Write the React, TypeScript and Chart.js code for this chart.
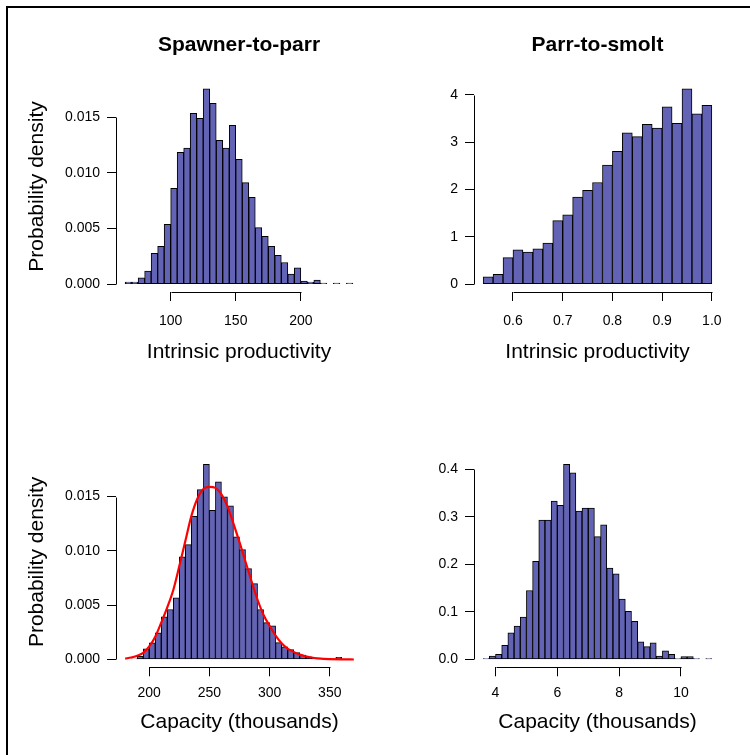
import React, { useEffect, useRef } from "react";
import { Chart, registerables } from "chart.js";

Chart.register(...registerables);

const FONT = "'Liberation Sans', Arial, sans-serif";
const W = 750;
const H = 755;

// ---------- Spawner-to-parr : intrinsic productivity ----------
const spProdBreaks = [
  65, 70, 75, 80, 85, 90, 95, 100, 105, 110, 115, 120, 125, 130, 135, 140, 145, 150,
  155, 160, 165, 170, 175, 180, 185, 190, 195, 200, 205, 210, 215, 220, 225, 230, 235, 240,
];
const spProdDensity = [
  0.00018, 0.00018, 0.00057, 0.00117, 0.00278, 0.00341, 0.00539, 0.00862, 0.01186, 0.01225,
  0.01536, 0.01491, 0.01757, 0.01626, 0.01293, 0.01225, 0.01428, 0.01123, 0.00913, 0.00781,
  0.00509, 0.00431, 0.00341, 0.0026, 0.00195, 0.0009, 0.00147, 0.00027, 0.00018, 0.00036,
  0.00009, 0, 0.00009, 0, 0.00009,
];
const spProdXTicks = [100, 150, 200];
const spProdYTicks = [0, 0.005, 0.01, 0.015];

// ---------- Parr-to-smolt : intrinsic productivity ----------
const psProdBreaks = [
  0.54, 0.56, 0.58, 0.6, 0.62, 0.64, 0.66, 0.68, 0.7, 0.72, 0.74, 0.76, 0.78, 0.8, 0.82,
  0.84, 0.86, 0.88, 0.9, 0.92, 0.94, 0.96, 0.98, 1.0,
];
const psProdDensity = [
  0.155, 0.21, 0.56, 0.725, 0.68, 0.75, 0.87, 1.345, 1.465, 1.84, 1.985, 2.15, 2.52, 2.81,
  3.2, 3.12, 3.38, 3.3, 3.75, 3.4, 4.13, 3.6, 3.78,
];
const psProdXTicks = [0.6, 0.7, 0.8, 0.9, 1.0];
const psProdYTicks = [0, 1, 2, 3, 4];

// ---------- Spawner-to-parr : capacity ----------
const spCapBreaks = [
  180, 185, 190, 195, 200, 205, 210, 215, 220, 225, 230, 235, 240, 245, 250, 255, 260, 265,
  270, 275, 280, 285, 290, 295, 300, 305, 310, 315, 320, 325, 330, 335, 340, 345, 350, 355,
  360, 365, 370,
];
const spCapDensity = [
  0, 0.00005, 0.0003, 0.00098, 0.00153, 0.00245, 0.00393, 0.0046, 0.00567, 0.00945, 0.01058,
  0.01319, 0.01564, 0.01797, 0.01374, 0.01635, 0.01497, 0.01414, 0.01129, 0.01012, 0.00837,
  0.00699, 0.0046, 0.0034, 0.0031, 0.00156, 0.00117, 0.00092, 0.00064, 0.0004, 0.00025,
  0.0001, 0, 0, 0, 0.0002, 0, 0,
];
const spCapCurveX = [
  180, 185, 190, 195, 200, 205, 210, 215, 220, 225, 230, 235, 240, 245, 250, 255, 260, 265,
  270, 275, 280, 285, 290, 295, 300, 305, 310, 315, 320, 325, 330, 335, 340, 345, 350, 360, 370,
];
const spCapCurveY = [
  0.00008, 0.00018, 0.00035, 0.0006, 0.0012, 0.0021, 0.0034, 0.0048, 0.0064, 0.0086, 0.0109,
  0.0132, 0.0148, 0.0157, 0.0159, 0.0158, 0.0152, 0.0141, 0.0125, 0.0108, 0.009, 0.0072,
  0.0055, 0.0041, 0.0031, 0.0022, 0.0015, 0.001, 0.0007, 0.00045, 0.0003, 0.00018, 0.0001,
  0.00005, 0.00003, 0.00001, 0,
];
const spCapXTicks = [200, 250, 300, 350];
const spCapYTicks = [0, 0.005, 0.01, 0.015];

// ---------- Parr-to-smolt : capacity ----------
const psCapBreaks = [
  3.6, 3.8, 4.0, 4.2, 4.4, 4.6, 4.8, 5.0, 5.2, 5.4, 5.6, 5.8, 6.0, 6.2, 6.4, 6.6, 6.8, 7.0,
  7.2, 7.4, 7.6, 7.8, 8.0, 8.2, 8.4, 8.6, 8.8, 9.0, 9.2, 9.4, 9.6, 9.8, 10.0, 10.2, 10.4, 10.6,
  10.8, 11.0,
];
const psCapDensity = [
  0.002, 0.007, 0.011, 0.03, 0.056, 0.07, 0.089, 0.145, 0.206, 0.293, 0.293, 0.333, 0.324,
  0.41, 0.392, 0.312, 0.318, 0.318, 0.258, 0.283, 0.192, 0.18, 0.127, 0.101, 0.08, 0.037,
  0.027, 0.035, 0.007, 0.018, 0.011, 0.002, 0.006, 0.006, 0.002, 0, 0.002,
];
const psCapXTicks = [4, 6, 8, 10];
const psCapYTicks = [0, 0.1, 0.2, 0.3, 0.4];

const BAR_FILL = "rgb(99,99,181)";

type PanelSpec = {
  breaks: number[];
  density: number[];
  curveX?: number[];
  curveY?: number[];
  xTicks: number[];
  yTicks: number[];
  xFmt: (v: number) => string;
  yFmt: (v: number) => string;
  xMin: number;
  xMax: number;
  yMin: number;
  yMax: number;
  area: { left: number; right: number; top: number; bottom: number };
  xLabelPad: number;
  xTitleGap: number;
  title?: string;
  xTitle: string;
  yTitle?: string;
};

const Y_W = 60;
const X_H = 40;

const panelTextPlugin = {
  id: "panelText",
  afterDraw(chart: any, _args: any, opts: any) {
    const { ctx, chartArea: a, scales } = chart;
    const x = scales.x;
    const y = scales.y;
    ctx.save();
    ctx.strokeStyle = "#000";
    ctx.lineWidth = 1;
    // R style axis lines spanning only the tick range
    const yt = y.ticks;
    const xl = Math.round(a.left) + 0.5;
    ctx.beginPath();
    ctx.moveTo(xl, Math.round(y.getPixelForValue(yt[0].value)) + 0.5);
    ctx.lineTo(xl, Math.round(y.getPixelForValue(yt[yt.length - 1].value)) + 0.5);
    ctx.stroke();
    const xt = x.ticks;
    const yb = Math.round(a.bottom) + 0.5;
    ctx.beginPath();
    ctx.moveTo(Math.round(x.getPixelForValue(xt[0].value)) + 0.5, yb);
    ctx.lineTo(Math.round(x.getPixelForValue(xt[xt.length - 1].value)) + 0.5, yb);
    ctx.stroke();

    ctx.fillStyle = "#000";
    ctx.textAlign = "center";
    ctx.textBaseline = "middle";
    const cx = (a.left + a.right) / 2;
    if (opts.title) {
      ctx.font = `bold 21px ${FONT}`;
      ctx.fillText(opts.title, cx, 45);
    }
    ctx.font = `21px ${FONT}`;
    ctx.fillText(opts.xTitle, cx, a.bottom + opts.xTitleGap);
    if (opts.yTitle) {
      ctx.save();
      ctx.translate(37, (a.top + a.bottom) / 2);
      ctx.rotate(-Math.PI / 2);
      ctx.fillText(opts.yTitle, 0, 0);
      ctx.restore();
    }
    ctx.restore();
  },
};

function Panel({ spec }: { spec: PanelSpec }) {
  const ref = useRef<HTMLCanvasElement>(null);
  useEffect(() => {
    if (!ref.current) return;
    const s = spec;
    const bars = s.density.map((d, i) => ({ x: (s.breaks[i] + s.breaks[i + 1]) / 2, y: d }));
    const datasets: any[] = [];
    if (s.curveX && s.curveY) {
      datasets.push({
        type: "line",
        data: s.curveX.map((v, i) => ({ x: v, y: s.curveY![i] })),
        borderColor: "#ff0000",
        borderWidth: 2.2,
        pointRadius: 0,
        cubicInterpolationMode: "monotone",
        fill: false,
        order: 0,
      });
    }
    datasets.push({
      type: "bar",
      data: bars,
      backgroundColor: BAR_FILL,
      borderColor: "#000",
      borderWidth: 1,
      borderSkipped: false,
      barPercentage: 1,
      categoryPercentage: 1,
      order: 1,
    });
    const tickFont = { family: FONT, size: 14 };
    const chart = new Chart(ref.current, {
      type: "bar",
      data: { datasets },
      plugins: [panelTextPlugin],
      options: {
        animation: false,
        responsive: false,
        maintainAspectRatio: false,
        events: [],
        layout: {
          padding: {
            left: s.area.left - Y_W,
            right: W - s.area.right,
            top: s.area.top,
            bottom: H - s.area.bottom - X_H,
          },
        },
        plugins: {
          legend: { display: false },
          tooltip: { enabled: false },
          title: { display: false },
          panelText: {
            title: s.title,
            xTitle: s.xTitle,
            yTitle: s.yTitle,
            xTitleGap: s.xTitleGap,
          },
        } as any,
        scales: {
          x: {
            type: "linear",
            min: s.xMin,
            max: s.xMax,
            offset: false,
            grid: {
              display: true,
              drawOnChartArea: false,
              drawTicks: true,
              tickLength: 9,
              color: "#000",
              lineWidth: 1,
              offset: false,
            },
            border: { display: false },
            ticks: {
              autoSkip: false,
              maxRotation: 0,
              minRotation: 0,
              color: "#000",
              font: tickFont,
              padding: s.xLabelPad,
              callback: (v: any) => s.xFmt(Number(v)),
            },
            afterBuildTicks: (sc: any) => {
              sc.ticks = s.xTicks.map((v) => ({ value: v }));
            },
            afterFit: (sc: any) => {
              sc.height = X_H;
            },
          },
          y: {
            type: "linear",
            min: s.yMin,
            max: s.yMax,
            grid: {
              display: true,
              drawOnChartArea: false,
              drawTicks: true,
              tickLength: 9,
              color: "#000",
              lineWidth: 1,
            },
            border: { display: false },
            ticks: {
              autoSkip: false,
              color: "#000",
              font: tickFont,
              padding: 7,
              callback: (v: any) => s.yFmt(Number(v)),
            },
            afterBuildTicks: (sc: any) => {
              sc.ticks = s.yTicks.map((v) => ({ value: v }));
            },
            afterFit: (sc: any) => {
              sc.width = Y_W;
            },
          },
        },
      } as any,
    });
    return () => chart.destroy();
  }, [spec]);
  return (
    <canvas
      ref={ref}
      width={W}
      height={H}
      style={{ position: "absolute", left: 0, top: 0, width: W, height: H }}
    />
  );
}

const specs: PanelSpec[] = [
  {
    breaks: spProdBreaks,
    density: spProdDensity,
    xTicks: spProdXTicks,
    yTicks: spProdYTicks,
    xFmt: (v) => String(Math.round(v)),
    yFmt: (v) => v.toFixed(3),
    xMin: 58,
    xMax: 247,
    yMin: -0.000703,
    yMax: 0.018273,
    area: { left: 116, right: 362, top: 81, bottom: 292 },
    xLabelPad: 12,
    xTitleGap: 60,
    title: "Spawner-to-parr",
    xTitle: "Intrinsic productivity",
    yTitle: "Probability density",
  },
  {
    breaks: psProdBreaks,
    density: psProdDensity,
    xTicks: psProdXTicks,
    yTicks: psProdYTicks,
    xFmt: (v) => v.toFixed(1),
    yFmt: (v) => String(Math.round(v)),
    xMin: 0.5216,
    xMax: 1.0184,
    yMin: -0.1652,
    yMax: 4.2952,
    area: { left: 474, right: 721, top: 81, bottom: 292 },
    xLabelPad: 12,
    xTitleGap: 60,
    title: "Parr-to-smolt",
    xTitle: "Intrinsic productivity",
  },
  {
    breaks: spCapBreaks,
    density: spCapDensity,
    curveX: spCapCurveX,
    curveY: spCapCurveY,
    xTicks: spCapXTicks,
    yTicks: spCapYTicks,
    xFmt: (v) => String(Math.round(v)),
    yFmt: (v) => v.toFixed(3),
    xMin: 172.4,
    xMax: 377.6,
    yMin: -0.000719,
    yMax: 0.018689,
    area: { left: 116, right: 363, top: 456.5, bottom: 667.3 },
    xLabelPad: 8,
    xTitleGap: 55,
    xTitle: "Capacity (thousands)",
    yTitle: "Probability density",
  },
  {
    breaks: psCapBreaks,
    density: psCapDensity,
    xTicks: psCapXTicks,
    yTicks: psCapYTicks,
    xFmt: (v) => String(Math.round(v)),
    yFmt: (v) => v.toFixed(1),
    xMin: 3.304,
    xMax: 11.296,
    yMin: -0.0164,
    yMax: 0.4264,
    area: { left: 474, right: 721, top: 456.5, bottom: 667.3 },
    xLabelPad: 8,
    xTitleGap: 55,
    xTitle: "Capacity (thousands)",
  },
];

export default function App() {
  return (
    <div
      style={{
        position: "absolute",
        left: 0,
        top: 0,
        width: W,
        height: H,
        background: "#fff",
        overflow: "hidden",
      }}
    >
      <div
        style={{
          position: "absolute",
          left: 6,
          top: 6,
          width: W,
          height: H,
          borderTop: "2px solid #000",
          borderLeft: "2px solid #000",
          boxSizing: "border-box",
        }}
      />
      {specs.map((sp, i) => (
        <Panel key={i} spec={sp} />
      ))}
    </div>
  );
}
